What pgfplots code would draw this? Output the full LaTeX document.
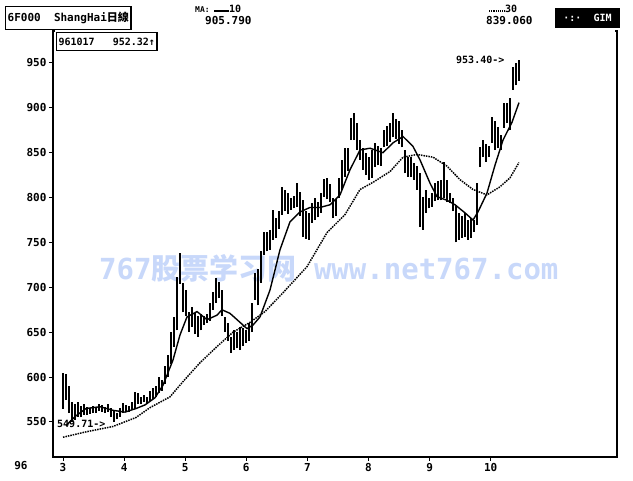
\documentclass[border=0pt]{standalone}
\usepackage{pgfplots}
\pgfplotsset{compat=1.18}
\usepackage{pgfplotstable}
\usepackage{fontspec}
\setmainfont{DejaVu Sans Mono}
\newfontfamily\cjk{Noto Sans CJK TC}
\newfontfamily\cjksc{Noto Sans CJK SC}
\definecolor{wm}{RGB}{200,216,250}

\pgfplotstableread{
m hi lo
3.000 605 565
3.049 603 575
3.098 590 560
3.147 572 550
3.196 570 552
3.245 572 556
3.295 568 555
3.344 570 558
3.393 567 558
3.442 566 559
3.491 568 560
3.540 567 560
3.589 570 562
3.638 569 561
3.687 567 560
3.736 570 561
3.786 566 556
3.835 562 549.71
3.884 560 553
3.933 566 556
3.982 571 560
4.031 569 561
4.080 568 561
4.129 572 563
4.178 583 564
4.227 582 570
4.277 578 570
4.326 580 572
4.375 578 571
4.424 585 573
4.473 588 576
4.522 590 578
4.571 600 582
4.620 597 585
4.669 612 592
4.718 625 600
4.768 650 615
4.817 667 634
4.866 711 652
4.915 738 704
4.964 705 672
5.013 697 668
5.062 672 650
5.111 678 656
5.160 671 648
5.209 668 645
5.259 670 652
5.308 668 658
5.357 670 660
5.406 683 662
5.455 695 675
5.504 710 683
5.553 706 688
5.602 697 668
5.651 667 650
5.700 660 640
5.750 645 627
5.799 652 630
5.848 650 632
5.897 656 630
5.946 655 635
5.995 652 638
6.044 660 640
6.093 683 650
6.142 716 686
6.191 720 680
6.241 740 705
6.290 762 736
6.339 762 740
6.388 764 742
6.437 786 753
6.486 777 755
6.535 785 765
6.584 812 781
6.633 808 785
6.682 805 782
6.732 799 786
6.781 802 788
6.830 816 790
6.879 806 780
6.928 797 756
6.977 785 754
7.026 783 753
7.075 794 772
7.124 800 775
7.173 795 778
7.223 805 783
7.272 821 801
7.321 822 798
7.370 815 795
7.419 800 777
7.468 798 780
7.517 822 800
7.566 842 808
7.615 855 823
7.664 855 830
7.714 889 864
7.763 894 864
7.812 883 853
7.861 864 842
7.910 855 831
7.959 850 825
8.008 845 820
8.057 853 822
8.106 861 834
8.155 858 836
8.205 855 835
8.254 875 856
8.303 880 858
8.352 883 862
8.401 894 867
8.450 888 865
8.499 885 860
8.548 875 856
8.597 853 827
8.646 845 823
8.696 845 823
8.745 838 820
8.794 835 809
8.843 827 767
8.892 801 764
8.941 808 783
8.990 800 788
9.039 805 790
9.088 816 796
9.137 818 797
9.187 820 797
9.236 840 800
9.285 820 795
9.334 805 794
9.383 800 785
9.432 792 750
9.481 783 753
9.530 780 755
9.579 783 756
9.628 775 753
9.678 777 755
9.727 775 762
9.776 816 770
9.825 856 834
9.874 864 845
9.923 860 840
9.972 858 845
10.021 890 861
10.070 885 853
10.119 879 855
10.168 870 853
10.218 905 878
10.267 905 883
10.316 911 875
10.365 945 920
10.414 950 925
10.463 953.40 930
}\bars

\pgfplotstableread{
m v
3.049 546
3.196 556
3.376 565
3.606 567
3.818 563
4.015 561
4.195 565
4.342 569
4.506 577
4.637 591
4.800 619
4.915 647
5.029 667
5.193 673
5.357 664
5.520 669
5.602 675
5.733 671
5.897 661
6.011 654
6.110 658
6.224 667
6.388 697
6.552 742
6.715 773
6.879 784
7.043 789
7.206 789
7.370 792
7.534 803
7.697 831
7.861 853
8.025 855
8.237 850
8.401 861
8.565 868
8.728 857
8.843 842
9.007 816
9.121 801
9.285 797
9.416 792
9.579 783
9.710 775
9.792 784
9.939 805
10.070 836
10.201 864
10.349 884
10.463 905.79
}\maten

\pgfplotstableread{
m v
3.000 533
3.376 539
3.818 545
4.195 555
4.424 566
4.751 578
4.964 595
5.242 616
5.520 634
5.782 650
6.060 661
6.306 673
6.601 694
6.993 723
7.321 761
7.615 781
7.861 809
8.074 817
8.352 829
8.565 845
8.794 848
9.056 845
9.285 835
9.497 820
9.710 809
9.939 803
10.152 812
10.316 822
10.463 839.06
}\mathirty

\begin{document}
\begin{tikzpicture}[x=1pt,y=1pt]
\useasboundingbox (0,0) rectangle (633,481);
% watermark
\node[anchor=west, text=wm, inner sep=0pt, font=\bfseries\fontsize{29}{30}\selectfont] at (99,213)
  {767{\cjksc 股票学习网} www.net767.com};
\begin{axis}[
  at={(53pt,24pt)}, anchor=south west,
  scale only axis, width=564pt, height=426pt,
  xmin=2.8363, xmax=12.067, ymin=511, ymax=985.6,
  axis line style={black, line width=1.2pt},
  xtick={3,4,5,6,7,8,9,10},
  ytick={550,600,650,700,750,800,850,900,950},
  tick pos=left,
  tick align=outside, major tick length=4pt,
  tick style={black, line width=1pt},
  minor tick num=0,
  ticklabel style={font=\bfseries\fontsize{11}{12}\selectfont},
  /pgf/number format/assume math mode=true,
  yticklabel style={xshift=1pt},
  xticklabel style={yshift=1pt},
  clip=false,
  after end axis/.code={\draw[white, line width=2pt] (rel axis cs:0.004,1) -- (rel axis cs:0.996,1);},
]
\addplot[draw=none, mark=none, forget plot,
  error bars/.cd, y dir=plus, y explicit, error mark=none,
  error bar style={solid, draw=black, line width=1.3pt}]
  table[x=m, y=lo, y error plus expr=\thisrow{hi}-\thisrow{lo}] {\bars};
\addplot[black, line width=1.4pt] table[x=m, y=v] {\maten};
\addplot[black, line width=1.5pt, densely dotted] table[x=m, y=v] {\mathirty};
\end{axis}
% annotations
\node[anchor=west, inner sep=0pt, font=\bfseries\fontsize{10}{11}\selectfont] at (456,421) {953.40->};
\node[anchor=west, inner sep=0pt, font=\bfseries\fontsize{10}{11}\selectfont] at (57,57) {549.71->};
\node[anchor=center, inner sep=0pt, font=\bfseries\fontsize{11}{12}\selectfont] at (21,15) {96};
% header
\node[draw, line width=1.3pt, anchor=north west, inner sep=2pt, minimum height=23pt,
  font=\bfseries\fontsize{11}{12}\selectfont] at (5,475) {6F000\ \ ShangHai{\cjk 日線}};
\node[draw, line width=1.2pt, anchor=north west, inner sep=2pt, minimum height=18pt, fill=white,
  font=\bfseries\fontsize{10}{11}\selectfont] at (56,449) {961017\ \ \ 952.32↑};
\node[anchor=west, inner sep=0pt, font=\bfseries\fontsize{8}{9}\selectfont] at (195,471) {MA:};
\draw[black, line width=1.2pt] (214,470) -- (229,470);
\node[anchor=west, inner sep=0pt, font=\bfseries\fontsize{10}{11}\selectfont] at (229,472) {10};
\node[anchor=west, inner sep=0pt, font=\bfseries\fontsize{11}{12}\selectfont] at (205,460) {905.790};
\draw[black, line width=1.2pt, densely dotted] (489,470) -- (505,470);
\node[anchor=west, inner sep=0pt, font=\bfseries\fontsize{10}{11}\selectfont] at (505,472) {30};
\node[anchor=west, inner sep=0pt, font=\bfseries\fontsize{11}{12}\selectfont] at (486,460) {839.060};
\fill[black] (555,473) rectangle (620,453);
\node[anchor=center, inner sep=0pt, text=white, font=\bfseries\fontsize{10}{11}\selectfont] at (587.5,463) {·:·\ \ GIM};
\end{tikzpicture}
\end{document}
